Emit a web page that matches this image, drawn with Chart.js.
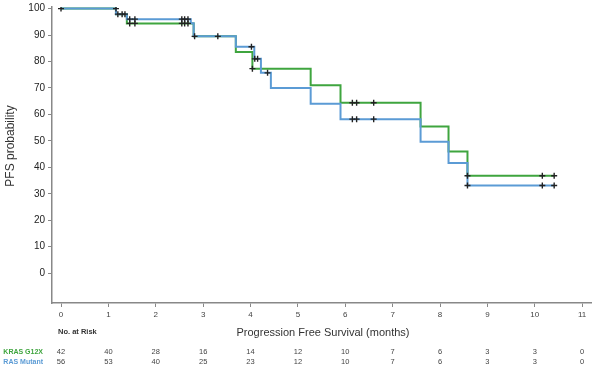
<!DOCTYPE html>
<html>
<head>
<meta charset="utf-8">
<script src="https://cdn.jsdelivr.net/npm/chart.js@4"></script>
<style>
  html, body { margin: 0; padding: 0; background: #fff; }
  #wrap { width: 597px; height: 369px; }
</style>
</head>
<body>
<div id="wrap"><canvas id="myChart" width="597" height="369"></canvas></div>
<script>
// step curves (time in months, PFS %)
const rasTimes  = [0, 1.16, 1.39, 2.74, 2.80, 3.69, 4.08, 4.22, 4.43, 5.27, 5.90, 7.59, 8.18, 8.58, 10.41];
const rasSurv   = [100, 97.9, 96.0, 94.5, 89.5, 85.6, 81.0, 75.7, 70.0, 64.0, 58.2, 49.7, 41.6, 33.1, 33.1];
const krasTimes = [0, 1.16, 1.39, 2.80, 3.69, 4.04, 5.27, 5.90, 7.59, 8.18, 8.58, 10.41];
const krasSurv  = [100, 97.9, 94.4, 89.5, 83.6, 77.3, 71.0, 64.4, 55.4, 46.0, 36.8, 36.8];

// censor marks
const censorTimes = [0, 1.16, 1.20, 1.29, 1.35, 1.45, 1.56, 1.45, 1.56, 2.55, 2.61, 2.68, 2.55, 2.61, 2.68,
  2.82, 3.31, 4.02, 4.09, 4.15, 4.04, 4.36, 6.15, 6.24, 6.60, 6.15, 6.24, 6.60,
  8.58, 8.58, 10.16, 10.41, 10.16, 10.41];
const censorSurv  = [100, 100, 97.9, 97.9, 97.9, 96.0, 96.0, 94.4, 94.4, 96.0, 96.0, 96.0, 94.4, 94.4, 94.4,
  89.5, 89.5, 85.6, 81.0, 81.0, 77.3, 75.7, 64.4, 64.4, 64.4, 58.2, 58.2, 58.2,
  36.8, 33.1, 36.8, 36.8, 33.1, 33.1];

// x ticks and number at risk
const xTicks   = [0, 1, 2, 3, 4, 5, 6, 7, 8, 9, 10, 11];
const yTicks   = [0, 10, 20, 30, 40, 50, 60, 70, 80, 90, 100];
const krasRisk = [42, 40, 28, 16, 14, 12, 10, 7, 6, 3, 3, 0];
const rasRisk  = [56, 53, 40, 25, 23, 12, 10, 7, 6, 3, 3, 0];

const GREEN = '#3fa53f';
const BLUE = '#5b9bd5';
const FONT = '"Liberation Sans", Arial, sans-serif';

const toPts = (xs, ys) => xs.map((x, i) => ({x: x, y: ys[i]}));

const riskTable = {
    id: 'riskTable',
    afterDraw(chart) {
        const ctx = chart.ctx;
        const xs = chart.scales.x;
        ctx.save();
        // y axis title
        ctx.fillStyle = '#333';
        ctx.font = '12px ' + FONT;
        ctx.textAlign = 'center';
        ctx.textBaseline = 'middle';
        ctx.save();
        ctx.translate(11, 146);
        ctx.rotate(-Math.PI / 2);
        ctx.fillText('PFS probability', 0, 0);
        ctx.restore();
        // x title + no. at risk
        ctx.font = '11px ' + FONT;
        ctx.fillText('Progression Free Survival (months)', 323, 333);
        ctx.font = 'bold 7.5px ' + FONT;
        ctx.textAlign = 'left';
        ctx.fillText('No. at Risk', 58, 332);
        // row labels
        ctx.textAlign = 'right';
        ctx.font = 'bold 7px ' + FONT;
        ctx.fillStyle = GREEN;
        ctx.fillText('KRAS G12X', 43, 352);
        ctx.fillStyle = BLUE;
        ctx.fillText('RAS Mutant', 43, 362);
        // numbers
        ctx.textAlign = 'center';
        ctx.font = '7.5px ' + FONT;
        ctx.fillStyle = '#444';
        xTicks.forEach((t, i) => {
            const px = xs.getPixelForValue(t);
            ctx.fillText(String(krasRisk[i]), px, 352);
            ctx.fillText(String(rasRisk[i]), px, 362);
        });
        ctx.restore();
    }
};

const config = {
    type: 'scatter',
    data: {
        datasets: [{
            label: 'censored',
            data: toPts(censorTimes, censorSurv),
            showLine: false,
            pointStyle: 'cross',
            pointRadius: 3,
            pointBorderColor: '#222',
            pointBorderWidth: 1.4,
        }, {
            label: 'RAS Mutant',
            data: toPts(rasTimes, rasSurv),
            showLine: true,
            stepped: true,
            borderColor: BLUE,
            borderWidth: 2,
            pointRadius: 0,
        }, {
            label: 'KRAS G12X',
            data: toPts(krasTimes, krasSurv),
            showLine: true,
            stepped: true,
            borderColor: GREEN,
            borderWidth: 2,
            pointRadius: 0,
        }]
    },
    options: {
        responsive: false,
        animation: false,
        layout: { padding: { top: 0, right: 4, left: 0, bottom: 0 } },
        plugins: { legend: { display: false }, tooltip: { enabled: false } },
        scales: {
            x: {
                type: 'linear',
                min: -0.19,
                max: 11.2,
                afterBuildTicks: (s) => { s.ticks = xTicks.map(v => ({value: v})); },
                afterFit: (s) => { s.height = 66; },
                grid: { drawOnChartArea: false, tickLength: 4, color: '#888', tickWidth: 1 },
                border: { color: '#888', width: 1.5 },
                ticks: { color: '#444', font: { size: 8, family: FONT }, padding: 3, maxRotation: 0 },
            },
            y: {
                min: -11.3,
                max: 100.6,
                afterBuildTicks: (s) => { s.ticks = yTicks.map(v => ({value: v})); },
                afterFit: (s) => { s.width = 52; },
                grid: { drawOnChartArea: false, tickLength: 4, color: '#888', tickWidth: 1 },
                border: { color: '#888', width: 1.5 },
                ticks: { color: '#222', font: { size: 10, family: FONT, lineHeight: 0.8 }, padding: 3 },
            }
        }
    },
    plugins: [riskTable]
};

let myChart = new Chart('myChart', config);
</script>
</body>
</html>
